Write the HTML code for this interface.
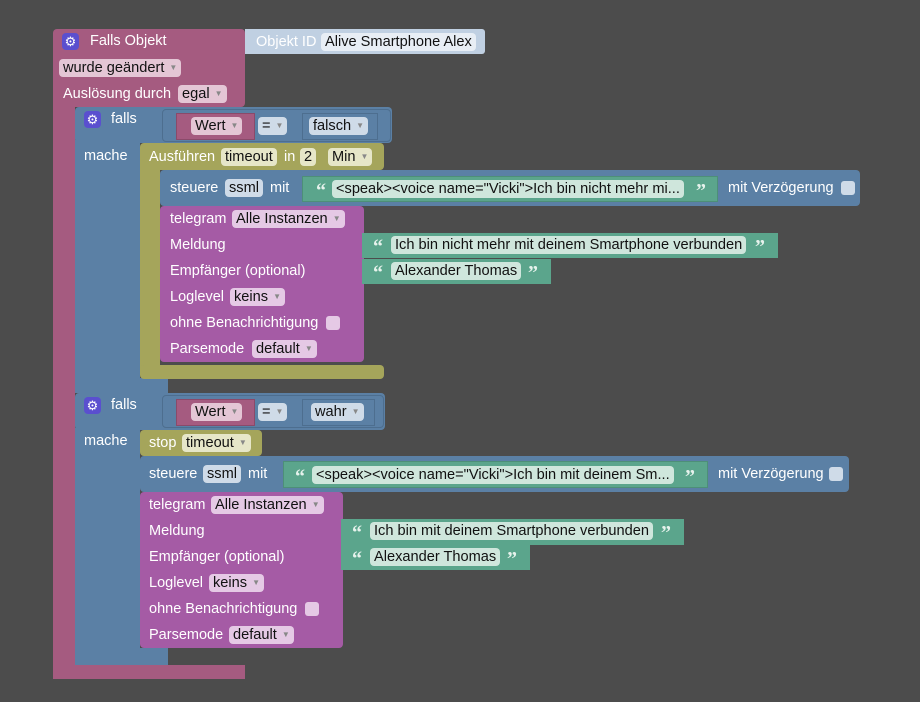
<!DOCTYPE html>
<html><head><meta charset="utf-8"><style>
body{margin:0;width:920px;height:702px;background:#4c4c4c;position:relative;overflow:hidden;font-family:"Liberation Sans",sans-serif}
div,span{position:absolute;box-sizing:border-box}
.b{border-radius:4px}
.pk{background:#a55b80}.bl{background:#5b80a5}.ol{background:#a5a55b}.pu{background:#a55ba5}.gr{background:#5ba58c}
.t{font-size:14.5px;line-height:18px;color:#fff;white-space:nowrap}
.c{font-size:14.6px;line-height:18px;height:18px;color:#111;border-radius:4px;padding:0 4px;white-space:nowrap}
.cp{background:#e4c6d5}.cb{background:#cfdbe8}.co{background:#e6e6c8}.cu{background:#e5c9e5}.cg{background:#cfe6dc}
.ar{position:static;font-size:8px;color:#888;vertical-align:middle;margin-left:5px}
.g{width:17px;height:17px;border-radius:4px;background:#5a4fcf;color:#fff;font-size:13px;line-height:17px;text-align:center}
.q{font-size:20px;font-weight:bold;color:#e6f2ec;line-height:18px;font-family:"Liberation Serif",serif}
.cb2{width:14px;height:14px;border-radius:3px}
</style></head><body>
<!-- outer pink -->
<div class="pk b" style="left:53px;top:29px;width:192px;height:78px"></div>
<div class="pk" style="left:53px;top:100px;width:22px;height:570px"></div>
<div class="pk" style="left:53px;top:665px;width:192px;height:14px"></div>
<div class="b" style="left:245px;top:29px;width:240px;height:25px;background:#c0d0e2;border-radius:0 3px 3px 0"></div>
<span class="g" style="left:62px;top:33px">⚙</span>
<span class="t" style="left:90px;top:32px">Falls Objekt</span>
<span class="t" style="left:256px;top:33px">Objekt ID</span>
<span class="c" style="left:321px;top:33px;background:#e8eef5">Alive Smartphone Alex</span>
<span class="c cp" style="left:59px;top:59px">wurde geändert<span class="ar">▼</span></span>
<span class="t" style="left:63px;top:85px">Auslösung durch</span>
<span class="c cp" style="left:178px;top:85px">egal<span class="ar">▼</span></span>

<!-- if 1 -->
<div class="bl b" style="left:75px;top:107px;width:317px;height:36px"></div>
<div class="bl" style="left:75px;top:140px;width:65px;height:240px"></div>
<div class="bl" style="left:75px;top:378px;width:93px;height:15px"></div>
<div class="b" style="left:162px;top:109px;width:229px;height:33px;border:1px solid #4d6e8f;background:#5b80a5"></div>
<span class="g" style="left:84px;top:111px">⚙</span>
<span class="t" style="left:111px;top:110px">falls</span>
<span class="t" style="left:84px;top:147px">mache</span>
<div class="pk" style="left:176px;top:113px;width:79px;height:27px;border:1px solid #8a4a6a"></div>
<span class="c cp" style="left:191px;top:117px">Wert<span class="ar">▼</span></span>
<span class="c cb" style="left:258px;top:117px">=<span class="ar">▼</span></span>
<div class="bl" style="left:302px;top:113px;width:76px;height:27px;border:1px solid #4d6e8f"></div>
<span class="c cb" style="left:309px;top:117px">falsch<span class="ar">▼</span></span>

<!-- olive -->
<div class="ol b" style="left:140px;top:143px;width:244px;height:27px"></div>
<div class="ol" style="left:140px;top:165px;width:20px;height:210px"></div>
<div class="ol b" style="left:140px;top:365px;width:244px;height:14px"></div>
<span class="t" style="left:149px;top:148px">Ausführen</span>
<span class="c co" style="left:221px;top:148px">timeout</span>
<span class="t" style="left:284px;top:148px">in</span>
<span class="c co" style="left:300px;top:148px">2</span>
<span class="c co" style="left:328px;top:148px">Min<span class="ar">▼</span></span>

<!-- steuere 1 -->
<div class="bl b" style="left:160px;top:170px;width:700px;height:36px"></div>
<span class="t" style="left:170px;top:179px">steuere</span>
<span class="c cb" style="left:225px;top:179px">ssml</span>
<span class="t" style="left:270px;top:179px">mit</span>
<div class="gr" style="left:302px;top:176px;width:416px;height:26px;border:1px solid #4d8f78"></div>
<span class="q" style="left:316px;top:182px">“</span>
<span class="c cg" style="left:332px;top:180px">&lt;speak&gt;&lt;voice name="Vicki"&gt;Ich bin nicht mehr mi...</span>
<span class="q" style="left:696px;top:182px">”</span>
<span class="t" style="left:728px;top:179px">mit Verzögerung</span>
<span class="cb2" style="left:841px;top:181px;background:#cfdbe8"></span>

<!-- telegram 1 -->
<div class="pu b" style="left:160px;top:206px;width:204px;height:156px"></div>
<span class="t" style="left:170px;top:210px">telegram</span>
<span class="c cu" style="left:232px;top:210px">Alle Instanzen<span class="ar">▼</span></span>
<span class="t" style="left:170px;top:236px">Meldung</span>
<span class="t" style="left:170px;top:262px">Empfänger (optional)</span>
<span class="t" style="left:170px;top:288px">Loglevel</span>
<span class="c cu" style="left:230px;top:288px">keins<span class="ar">▼</span></span>
<span class="t" style="left:170px;top:314px">ohne Benachrichtigung</span>
<span class="cb2" style="left:326px;top:316px;background:#e5c9e5"></span>
<span class="t" style="left:170px;top:340px">Parsemode</span>
<span class="c cu" style="left:252px;top:340px">default<span class="ar">▼</span></span>
<div class="gr" style="left:362px;top:233px;width:416px;height:25px"></div>
<span class="q" style="left:373px;top:238px">“</span>
<span class="c cg" style="left:391px;top:236px">Ich bin nicht mehr mit deinem Smartphone verbunden</span>
<span class="q" style="left:755px;top:238px">”</span>
<div class="gr" style="left:362px;top:259px;width:189px;height:25px"></div>
<span class="q" style="left:373px;top:264px">“</span>
<span class="c cg" style="left:391px;top:262px">Alexander Thomas</span>
<span class="q" style="left:528px;top:264px">”</span>

<!-- if 2 -->
<div class="bl b" style="left:75px;top:393px;width:310px;height:37px"></div>
<div class="bl" style="left:75px;top:428px;width:65px;height:224px"></div>
<div class="bl" style="left:75px;top:648px;width:93px;height:17px"></div>
<div class="b" style="left:162px;top:395px;width:222px;height:33px;border:1px solid #4d6e8f;background:#5b80a5"></div>
<span class="g" style="left:84px;top:397px">⚙</span>
<span class="t" style="left:111px;top:396px">falls</span>
<span class="t" style="left:84px;top:432px">mache</span>
<div class="pk" style="left:176px;top:399px;width:79px;height:27px;border:1px solid #8a4a6a"></div>
<span class="c cp" style="left:191px;top:403px">Wert<span class="ar">▼</span></span>
<span class="c cb" style="left:258px;top:403px">=<span class="ar">▼</span></span>
<div class="bl" style="left:302px;top:399px;width:73px;height:27px;border:1px solid #4d6e8f"></div>
<span class="c cb" style="left:311px;top:403px">wahr<span class="ar">▼</span></span>

<div class="ol b" style="left:140px;top:430px;width:122px;height:26px"></div>
<span class="t" style="left:149px;top:434px">stop</span>
<span class="c co" style="left:182px;top:434px">timeout<span class="ar">▼</span></span>

<div class="bl b" style="left:140px;top:456px;width:709px;height:36px"></div>
<span class="t" style="left:149px;top:465px">steuere</span>
<span class="c cb" style="left:203px;top:465px">ssml</span>
<span class="t" style="left:248px;top:465px">mit</span>
<div class="gr" style="left:283px;top:461px;width:425px;height:27px;border:1px solid #4d8f78"></div>
<span class="q" style="left:295px;top:468px">“</span>
<span class="c cg" style="left:312px;top:466px">&lt;speak&gt;&lt;voice name="Vicki"&gt;Ich bin mit deinem Sm...</span>
<span class="q" style="left:685px;top:468px">”</span>
<span class="t" style="left:718px;top:465px">mit Verzögerung</span>
<span class="cb2" style="left:829px;top:467px;background:#cfdbe8"></span>

<div class="pu b" style="left:140px;top:492px;width:203px;height:156px"></div>
<span class="t" style="left:149px;top:496px">telegram</span>
<span class="c cu" style="left:211px;top:496px">Alle Instanzen<span class="ar">▼</span></span>
<span class="t" style="left:149px;top:522px">Meldung</span>
<span class="t" style="left:149px;top:548px">Empfänger (optional)</span>
<span class="t" style="left:149px;top:574px">Loglevel</span>
<span class="c cu" style="left:209px;top:574px">keins<span class="ar">▼</span></span>
<span class="t" style="left:149px;top:600px">ohne Benachrichtigung</span>
<span class="cb2" style="left:305px;top:602px;background:#e5c9e5"></span>
<span class="t" style="left:149px;top:626px">Parsemode</span>
<span class="c cu" style="left:229px;top:626px">default<span class="ar">▼</span></span>
<div class="gr" style="left:341px;top:519px;width:343px;height:26px"></div>
<span class="q" style="left:352px;top:524px">“</span>
<span class="c cg" style="left:370px;top:522px">Ich bin mit deinem Smartphone verbunden</span>
<span class="q" style="left:661px;top:524px">”</span>
<div class="gr" style="left:341px;top:545px;width:189px;height:25px"></div>
<span class="q" style="left:352px;top:550px">“</span>
<span class="c cg" style="left:370px;top:548px">Alexander Thomas</span>
<span class="q" style="left:507px;top:550px">”</span>
</body></html>
